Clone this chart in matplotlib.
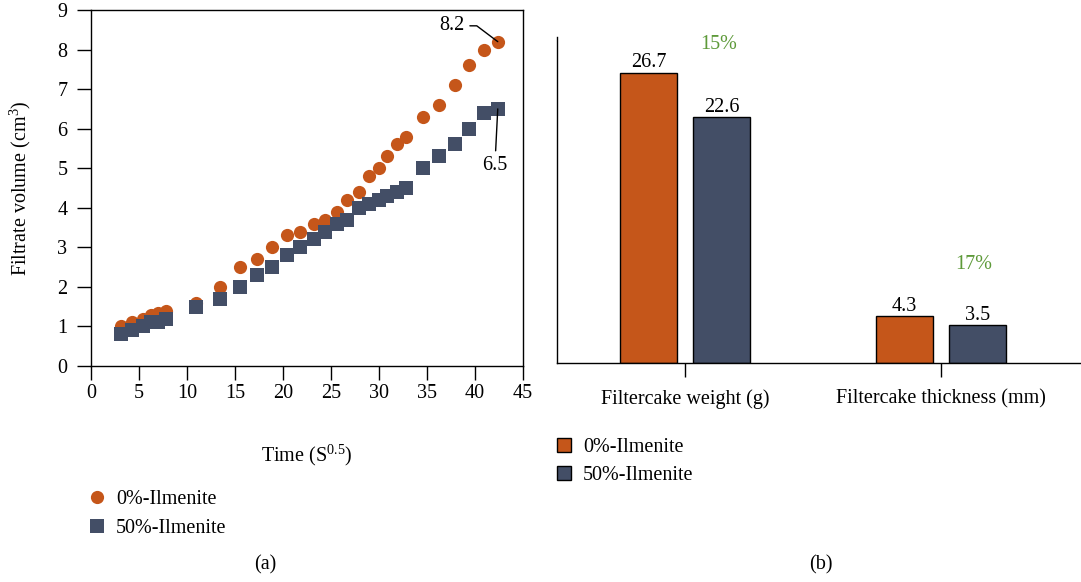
import matplotlib
matplotlib.use("Agg")
import matplotlib.pyplot as plt
import numpy as np

plt.rcParams["font.family"] = ["Liberation Serif", "DejaVu Serif"]
plt.rcParams["mathtext.fontset"] = "custom"
plt.rcParams["mathtext.rm"] = "Liberation Serif"
plt.rcParams["font.size"] = 14.5

ORANGE = "#C5561A"
NAVY = "#434E66"
GREEN = "#5E9A3A"

# filtrate volume vs square root of time
time_sqrt = [3.1, 4.3, 5.4, 6.3, 7.0, 7.8, 10.9, 13.4, 15.5, 17.3, 18.9, 20.4, 21.8,
             23.2, 24.4, 25.6, 26.7, 27.9, 29.0, 30.0, 30.9, 31.9, 32.8, 34.6, 36.3,
             37.9, 39.4, 41.0, 42.4]
vol_0 = [1.0, 1.1, 1.2, 1.3, 1.35, 1.4, 1.6, 2.0, 2.5, 2.7, 3.0, 3.3, 3.4,
         3.6, 3.7, 3.9, 4.2, 4.4, 4.8, 5.0, 5.3, 5.6, 5.8, 6.3, 6.6,
         7.1, 7.6, 8.0, 8.2]
vol_50 = [0.8, 0.9, 1.0, 1.1, 1.1, 1.2, 1.5, 1.7, 2.0, 2.3, 2.5, 2.8, 3.0,
          3.2, 3.4, 3.6, 3.7, 4.0, 4.1, 4.2, 4.3, 4.4, 4.5, 5.0, 5.3,
          5.6, 6.0, 6.4, 6.5]

# filtercake properties
categories = ["Filtercake weight (g)", "Filtercake thickness (mm)"]
cake_0 = [26.7, 4.3]
cake_50 = [22.6, 3.5]
reduction = ["15%", "17%"]

series_labels = ["0%-Ilmenite", "50%-Ilmenite"]

fig = plt.figure(figsize=(10.81, 5.82), dpi=100)

# ---- (a) scatter ----
ax1 = fig.add_axes([91 / 1081, 216 / 582, 431.7 / 1081, 356 / 582])
h0, = ax1.plot(time_sqrt, vol_0, "o", color=ORANGE, markersize=9.5,
               markeredgewidth=0, label=series_labels[0])
h1, = ax1.plot(time_sqrt, vol_50, "s", color=NAVY, markersize=10,
               markeredgewidth=0, label=series_labels[1])
ax1.set_xlim(0, 45)
ax1.set_ylim(0, 9)
ax1.set_xticks(np.arange(0, 46, 5))
ax1.set_yticks(np.arange(0, 10, 1))
ax1.tick_params(axis="x", direction="out", length=10, width=1, pad=3)
ax1.tick_params(axis="y", direction="out", length=10, width=1, pad=7)
for sp in ax1.spines.values():
    sp.set_linewidth(1)
ax1.set_ylabel("Filtrate volume (cm$^{\\mathrm{3}}$)")
ax1.yaxis.set_label_coords(-0.134, 0.5)
ax1.set_xlabel("Time (S$^{\\mathrm{0.5}}$)")
ax1.xaxis.set_label_coords(0.5, -0.214)

ax1.annotate(f"{vol_0[-1]}", xy=(time_sqrt[-1], vol_0[-1]), xytext=(37.6, 8.6),
             ha="center", va="center",
             arrowprops=dict(arrowstyle="-", color="black", lw=1, shrinkB=0,
                             connectionstyle="angle,angleA=0,angleB=143,rad=0"))
ax1.annotate(f"{vol_50[-1]}", xy=(time_sqrt[-1], vol_50[-1]), xytext=(42.1, 5.06),
             ha="center", va="center",
             arrowprops=dict(arrowstyle="-", color="black", lw=1, shrinkB=0))

ax1.legend(handles=[h0, h1], loc="upper left", frameon=False,
           bbox_to_anchor=(86.6 / 1081, 1 - 489.7 / 582),
           bbox_transform=fig.transFigure, borderpad=0, borderaxespad=0,
           handlelength=1.0, handletextpad=0.47, labelspacing=0.5)

fig.text(265.5 / 1081, 1 - 565 / 582, "(a)", ha="center", va="center")

# ---- (b) bars ----
ax2 = fig.add_axes([556.7 / 1081, 218.7 / 582, 524.3 / 1081, 326.6 / 582])
x = np.arange(len(categories))
w = 0.223
off = 0.1426
b0 = ax2.bar(x - off, cake_0, w, color=ORANGE, edgecolor="black", linewidth=1,
             label=series_labels[0])
b1 = ax2.bar(x + off, cake_50, w, color=NAVY, edgecolor="black", linewidth=1,
             label=series_labels[1])
for bars in (b0, b1):
    for rect in bars:
        ax2.text(rect.get_x() + rect.get_width() / 2, rect.get_height() + 0.05,
                 f"{rect.get_height()}", ha="center", va="bottom")
ax2.text(x[0] + 0.133, 29.3, reduction[0], color=GREEN, ha="center", va="center")
ax2.text(x[1] + 0.127, 9.03, reduction[1], color=GREEN, ha="center", va="center")

ax2.set_xlim(-0.501, 1.547)
ax2.set_ylim(0, 30)
ax2.set_xticks(x)
ax2.set_xticklabels(categories)
ax2.set_yticks([])
ax2.tick_params(axis="x", direction="out", length=10, width=1, pad=9)
ax2.spines["top"].set_visible(False)
ax2.spines["right"].set_visible(False)
ax2.spines["left"].set_linewidth(1)
ax2.spines["bottom"].set_linewidth(1)

ax2.legend(handles=[b0, b1], loc="upper left", frameon=False,
           bbox_to_anchor=(557 / 1081, 1 - 438 / 582),
           bbox_transform=fig.transFigure, borderpad=0, borderaxespad=0,
           handlelength=0.7, handleheight=0.7, handletextpad=0.58,
           labelspacing=0.45)

fig.text(820.7 / 1081, 1 - 565 / 582, "(b)", ha="center", va="center")

fig.savefig("out.png", dpi=100)
